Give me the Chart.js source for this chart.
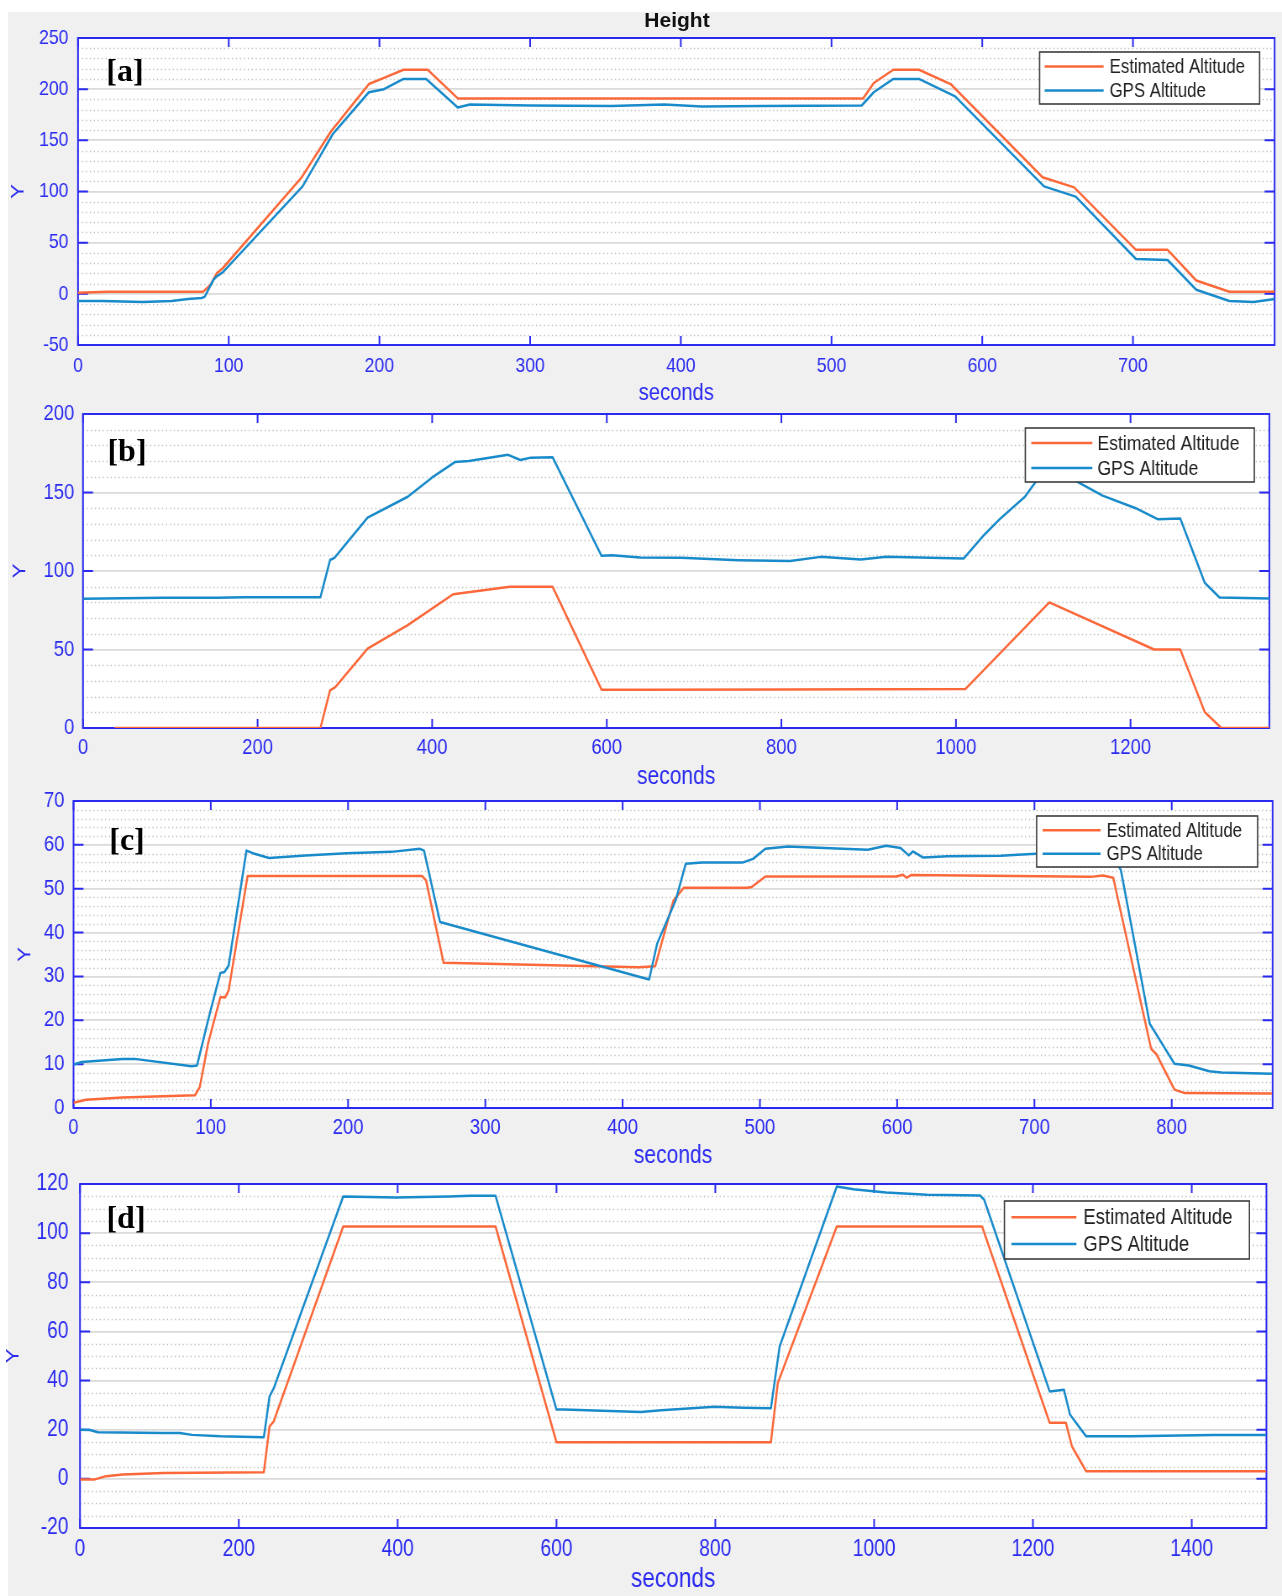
<!DOCTYPE html>
<html>
<head>
<meta charset="utf-8">
<script src="https://cdn.jsdelivr.net/npm/chart.js@4.4.1/dist/chart.umd.min.js"></script>
<style>
body { margin: 0; width: 1282px; height: 1596px; background: #fff; position: relative; overflow: hidden; }
#figure { position: absolute; left: 8px; top: 12px; right: 0; bottom: 0; background: #f0f0f0; }
canvas { position: absolute; left: 0; transform-origin: 0 0; }
#title { position: absolute; left: 677px; top: 20px; transform: translate(-50%, -50%); font: bold 21px "Liberation Sans", Arial, sans-serif; color: #111; white-space: nowrap; }
.tag { position: absolute; font: bold 32px "Liberation Serif", "Times New Roman", serif; color: #000; line-height: 1; transform: translate(-50%, -50%); }
</style>
</head>
<body>
<div id="figure"></div>
<canvas id="chartA"></canvas>
<canvas id="chartB"></canvas>
<canvas id="chartC"></canvas>
<canvas id="chartD"></canvas>
<div id="title">Height</div>
<div class="tag" style="left:125px;top:70px">[a]</div>
<div class="tag" style="left:127px;top:450px">[b]</div>
<div class="tag" style="left:127px;top:839px">[c]</div>
<div class="tag" style="left:126px;top:1217px">[d]</div>
<script>
// ---- data (time in seconds, height) ----
const estA_t = [0, 20, 50, 83, 88, 92, 96, 148, 168, 193, 203, 216, 232, 252, 300, 400, 521, 528, 541, 558, 579, 640, 661, 702, 723, 742, 764, 794];
const estA_y = [1, 2, 2, 2, 9, 20, 25, 113, 159, 205, 211, 219, 219, 191, 191, 191, 191, 206, 219, 219, 205, 114, 104, 43, 43, 13, 2, 2];
const gpsA_t = [0, 16, 43, 62, 73, 82, 84, 90, 92, 96, 149, 169, 193, 203, 216, 231, 252, 260, 300, 354, 389, 414, 454, 520, 528, 541, 558, 582, 641, 662, 702, 723, 742, 764, 780, 794];
const gpsA_y = [-7, -7, -8, -7, -5, -4, -3, 14, 17, 21, 105, 156, 197, 200, 210, 210, 182, 185, 184, 183.5, 185, 183, 183.5, 184, 197, 210, 210, 193, 105, 95, 34, 33, 4, -7, -8, -5];

const estB_t = [36, 272, 283, 289, 326, 372, 424, 489, 538, 594, 638, 800, 1011, 1107, 1135, 1227, 1257, 1285, 1304, 1359];
const estB_y = [0, 0, 24, 26, 50.6, 65.5, 85.2, 89.9, 89.9, 24.4, 24.4, 24.6, 24.9, 80, 73, 50, 50, 10.2, 0, 0];
const gpsB_t = [0, 92, 153, 185, 272, 283, 288, 326, 372, 400, 426, 442, 487, 501, 513, 538, 594, 606, 638, 685, 751, 810, 845, 891, 920, 1009, 1032, 1051, 1079, 1093, 1112, 1135, 1168, 1206, 1231, 1257, 1285, 1302, 1359];
const gpsB_y = [82.3, 82.9, 82.9, 83.3, 83.3, 107, 108.4, 134, 147.3, 159.6, 169.4, 170, 174, 170.7, 172.2, 172.4, 109.7, 110, 108.6, 108.4, 106.9, 106.3, 109, 107.3, 109, 108, 122.8, 133.5, 147.3, 158, 164, 158, 148, 140, 133, 133.5, 92.5, 83.1, 82.5];

const estC_t = [0, 9, 35.6, 65.3, 88.5, 92, 98, 107, 110.5, 113, 126.8, 253.9, 256.8, 269.6, 412, 423.7, 437, 444.5, 490.8, 494, 504, 599.5, 604, 607, 610, 741, 750, 757.4, 785, 789, 802, 809.5, 873];
const estC_y = [1.2, 1.9, 2.4, 2.7, 2.9, 4.8, 14.7, 25.3, 25.2, 26.8, 52.9, 52.9, 51.9, 33.1, 32.1, 32.3, 47.3, 50.2, 50.2, 50.4, 52.8, 52.8, 53.2, 52.5, 53.1, 52.7, 53, 52.5, 13.5, 12.2, 4.2, 3.4, 3.3];
const gpsC_t = [0, 6, 35.6, 44.5, 86, 90, 98, 107, 110, 113, 126, 130.6, 142.5, 169, 199, 231.6, 252.4, 255.3, 267, 419.3, 425.2, 438.6, 446, 458, 487.8, 495, 504, 520.6, 547, 578.6, 592, 602.5, 608.4, 611.4, 619, 636.7, 675.4, 700.8, 730, 757, 763, 784, 802, 812.5, 827.4, 836.3, 873];
const gpsC_y = [9.9, 10.5, 11.2, 11.2, 9.5, 9.7, 20, 30.8, 31, 32.5, 58.7, 58.1, 57, 57.6, 58.1, 58.4, 59.1, 58.7, 42.4, 29.3, 37.5, 47.3, 55.7, 56, 56, 56.8, 59.1, 59.6, 59.3, 58.9, 59.8, 59.3, 57.6, 58.5, 57.1, 57.4, 57.5, 58, 58.2, 58.2, 54.2, 19.2, 10.1, 9.7, 8.4, 8.1, 7.8];

const estD_t = [0, 17.5, 33, 53.5, 105, 231.5, 238.7, 244, 331.4, 523.3, 600, 706, 870, 878.7, 953, 1136, 1221, 1241.5, 1249, 1267, 1494];
const estD_y = [-0.3, -0.3, 1.1, 1.8, 2.4, 2.7, 21.4, 23.4, 102.7, 102.7, 14.9, 14.9, 14.9, 39, 102.7, 102.7, 22.8, 22.8, 13.3, 3.1, 3.1];
const gpsD_t = [0, 12.3, 22.6, 105, 125.5, 141, 177, 231.5, 238.7, 244, 331.4, 398, 465, 491, 523.3, 600, 609, 706, 732, 799, 835, 870, 881, 953, 974, 1015, 1066.5, 1133.4, 1138.6, 1221, 1239, 1246.6, 1267, 1324, 1426.7, 1494];
const gpsD_y = [20, 19.9, 19, 18.7, 18.7, 17.9, 17.3, 16.9, 33.6, 36.9, 114.9, 114.5, 114.9, 115.2, 115.2, 28.2, 28.2, 27.2, 27.9, 29.3, 28.9, 28.7, 53.9, 119, 117.9, 116.5, 115.6, 115.3, 113.6, 35.6, 36.3, 26.2, 17.3, 17.3, 17.8, 17.8];

// tick labels
const xTicksA = [0, 100, 200, 300, 400, 500, 600, 700];
const yTicksA = [-50, 0, 50, 100, 150, 200, 250];
const xTicksB = [0, 200, 400, 600, 800, 1000, 1200];
const yTicksB = [0, 50, 100, 150, 200];
const xTicksC = [0, 100, 200, 300, 400, 500, 600, 700, 800];
const yTicksC = [0, 10, 20, 30, 40, 50, 60, 70];
const xTicksD = [0, 200, 400, 600, 800, 1000, 1200, 1400];
const yTicksD = [-20, 0, 20, 40, 60, 80, 100, 120];

const seriesNames = ['Estimated Altitude', 'GPS Altitude'];

// ---- look ----
const PAGE_W = 1282;
const CANVAS_W = 1526;           // drawn wider, then squeezed like the original figure
const SX = PAGE_W / CANVAS_W;
const PAD_TOP = 34;
const axisBlue = '#2a2af0';
const estColor = '#fb693b';
const gpsColor = '#1a8bca';

Chart.defaults.font.family = '"Liberation Sans", Arial, sans-serif';

// matlab style box: white plot, dotted minor grid, blue frame with inward ticks, legend in the corner
const matlabAxes = {
    id: 'matlabAxes',
    beforeDraw(chart) {
        const { ctx, chartArea: a } = chart;
        ctx.save();
        ctx.fillStyle = '#ffffff';
        ctx.fillRect(a.left, a.top, a.width, a.height);
        ctx.restore();
    },
    beforeDatasetsDraw(chart, args, opts) {
        const { ctx, chartArea: a, scales: { x, y } } = chart;
        ctx.save();
        ctx.strokeStyle = '#bcbcbc';
        ctx.lineWidth = 1.3;
        ctx.setLineDash([1.3, 3.4]);
        const n = Math.round((y.max - y.min) / opts.minor);
        for (let i = 1; i < n; i++) {
            if (i % opts.perMajor === 0) continue;
            const py = Math.round(y.getPixelForValue(y.min + i * opts.minor)) + 0.5;
            ctx.beginPath();
            ctx.moveTo(a.left, py);
            ctx.lineTo(a.right, py);
            ctx.stroke();
        }
        ctx.restore();

        // frame and inward ticks, under the data lines
        ctx.save();
        ctx.strokeStyle = axisBlue;
        ctx.lineWidth = 2;
        const tx = 9, ty = 10 / SX;
        ctx.beginPath();
        x.ticks.forEach(function (t) {
            const px = x.getPixelForValue(t.value);
            ctx.moveTo(px, a.bottom); ctx.lineTo(px, a.bottom - tx);
            ctx.moveTo(px, a.top); ctx.lineTo(px, a.top + tx);
        });
        y.ticks.forEach(function (t) {
            const py = y.getPixelForValue(t.value);
            ctx.moveTo(a.left, py); ctx.lineTo(a.left + ty, py);
            ctx.moveTo(a.right, py); ctx.lineTo(a.right - ty, py);
        });
        ctx.stroke();
        ctx.strokeRect(a.left, a.top, a.width, a.height);
        ctx.restore();
    },
    afterDraw(chart, args, opts) {
        const { ctx, chartArea: a } = chart;
        const lg = opts.legend;
        const right = a.right - lg.gapR / SX;
        const left = right - lg.w / SX;
        const top = a.top + lg.gapT;
        ctx.save();
        ctx.fillStyle = '#ffffff';
        ctx.fillRect(left, top, right - left, lg.h);
        ctx.strokeStyle = '#3c3c3c';
        ctx.lineWidth = 1.6;
        ctx.strokeRect(left, top, right - left, lg.h);
        ctx.font = lg.font + 'px "Liberation Sans", Arial, sans-serif';
        ctx.textBaseline = 'middle';
        chart.data.datasets.forEach(function (ds, i) {
            const ry = top + lg.h * (i === 0 ? 0.28 : 0.74);
            ctx.strokeStyle = ds.borderColor;
            ctx.lineWidth = 2.5;
            ctx.beginPath();
            ctx.moveTo(left + lg.line[0] / SX, ry);
            ctx.lineTo(left + lg.line[1] / SX, ry);
            ctx.stroke();
            ctx.fillStyle = '#202020';
            ctx.fillText(ds.label, left + lg.text / SX, ry + 1);
        });
        ctx.restore();
    }
};

function points(t, v) {
    return t.map(function (d, i) { return { x: d, y: v[i] }; });
}

function plainLabel(value) {
    return String(value);
}

function makePanel(id, p, est_t, est_y, gps_t, gps_y, xTicks, yTicks) {
    const canvas = document.getElementById(id);
    const plotH = p.bottom - p.top;
    canvas.width = CANVAS_W;
    canvas.height = PAD_TOP + plotH + p.axisH;
    canvas.style.top = (p.top - PAD_TOP) + 'px';
    canvas.style.transform = 'scaleX(' + SX + ')';
    const tickLH = p.tickFont * 1.2;
    const titleLH = p.titleFont * 1.2;
    const yTitleLH = 22 * 1.2;

    new Chart(canvas, {
        type: 'line',
        data: {
            datasets: [{
                label: seriesNames[0],
                data: points(est_t, est_y),
                borderColor: estColor,
                order: 1
            }, {
                label: seriesNames[1],
                data: points(gps_t, gps_y),
                borderColor: gpsColor,
                order: 0
            }]
        },
        options: {
            responsive: false,
            animation: false,
            devicePixelRatio: 1,
            layout: { padding: { top: PAD_TOP, left: 0, bottom: 0, right: CANVAS_W - p.right / SX } },
            elements: {
                point: { radius: 0 },
                line: { borderWidth: 2.5, tension: 0, borderJoinStyle: 'round' }
            },
            plugins: {
                legend: { display: false },
                tooltip: { enabled: false },
                matlabAxes: { minor: p.minor, perMajor: p.perMajor, legend: p.legend }
            },
            scales: {
                x: {
                    type: 'linear',
                    min: 0,
                    max: p.xMax,
                    afterBuildTicks: function (s) { s.ticks = xTicks.map(function (v) { return { value: v }; }); },
                    afterFit: function (s) { s.height = p.axisH; },
                    grid: { display: false, drawTicks: false },
                    border: { display: false },
                    ticks: {
                        color: axisBlue,
                        font: { size: p.tickFont },
                        padding: p.tickDist - tickLH / 2,
                        maxRotation: 0,
                        autoSkip: false,
                        callback: plainLabel
                    },
                    title: {
                        display: true,
                        text: 'seconds',
                        color: axisBlue,
                        font: { size: p.titleFont },
                        padding: { top: 0, bottom: Math.max(0, p.axisH - p.titleDist - titleLH / 2) }
                    }
                },
                y: {
                    min: p.yMin,
                    max: p.yMax,
                    afterBuildTicks: function (s) { s.ticks = yTicks.map(function (v) { return { value: v }; }); },
                    afterFit: function (s) { s.width = p.left / SX; },
                    grid: { color: '#dadada', lineWidth: 1.7, drawTicks: false },
                    border: { display: false },
                    ticks: {
                        color: axisBlue,
                        font: { size: p.tickFont },
                        padding: p.yGap / SX,
                        callback: plainLabel
                    },
                    title: {
                        display: true,
                        text: 'Y',
                        color: axisBlue,
                        font: { size: 22 },
                        padding: { top: p.yTitleX / SX - yTitleLH / 2, bottom: 0 }
                    }
                }
            }
        },
        plugins: [matlabAxes]
    });
}

makePanel('chartA', {
    top: 38, bottom: 345, left: 78, right: 1274.6, axisH: 64, xMax: 794, yMin: -50, yMax: 250,
    minor: 10, perMajor: 5, tickFont: 21, titleFont: 24, tickDist: 21, titleDist: 48, yGap: 9.5, yTitleX: 18.3,
    legend: { gapR: 15, gapT: 14, w: 220, h: 52, font: 20, line: [5, 64], text: 70 }
}, estA_t, estA_y, gpsA_t, gpsA_y, xTicksA, yTicksA);

makePanel('chartB', {
    top: 414, bottom: 728, left: 83, right: 1269.3, axisH: 64, xMax: 1359, yMin: 0, yMax: 200,
    minor: 10, perMajor: 5, tickFont: 22, titleFont: 25, tickDist: 20, titleDist: 49, yGap: 8.7, yTitleX: 20.4,
    legend: { gapR: 15, gapT: 14, w: 229, h: 54, font: 21, line: [6, 67], text: 72 }
}, estB_t, estB_y, gpsB_t, gpsB_y, xTicksB, yTicksB);

makePanel('chartC', {
    top: 801, bottom: 1108, left: 73.5, right: 1272.6, axisH: 64, xMax: 873.5, yMin: 0, yMax: 70,
    minor: 2, perMajor: 5, tickFont: 22, titleFont: 25, tickDist: 20, titleDist: 48, yGap: 9, yTitleX: 25.4,
    legend: { gapR: 15, gapT: 15, w: 221, h: 51, font: 20, line: [6, 64], text: 70 }
}, estC_t, estC_y, gpsC_t, gpsC_y, xTicksC, yTicksC);

makePanel('chartD', {
    top: 1184, bottom: 1528, left: 80, right: 1266.4, axisH: 68, xMax: 1494, yMin: -20, yMax: 120,
    minor: 5, perMajor: 4, tickFont: 23, titleFont: 27, tickDist: 22, titleDist: 54, yGap: 11.4, yTitleX: 13.2,
    legend: { gapR: 17, gapT: 17, w: 245, h: 58, font: 22, line: [7, 72], text: 79 }
}, estD_t, estD_y, gpsD_t, gpsD_y, xTicksD, yTicksD);
</script>
</body>
</html>
